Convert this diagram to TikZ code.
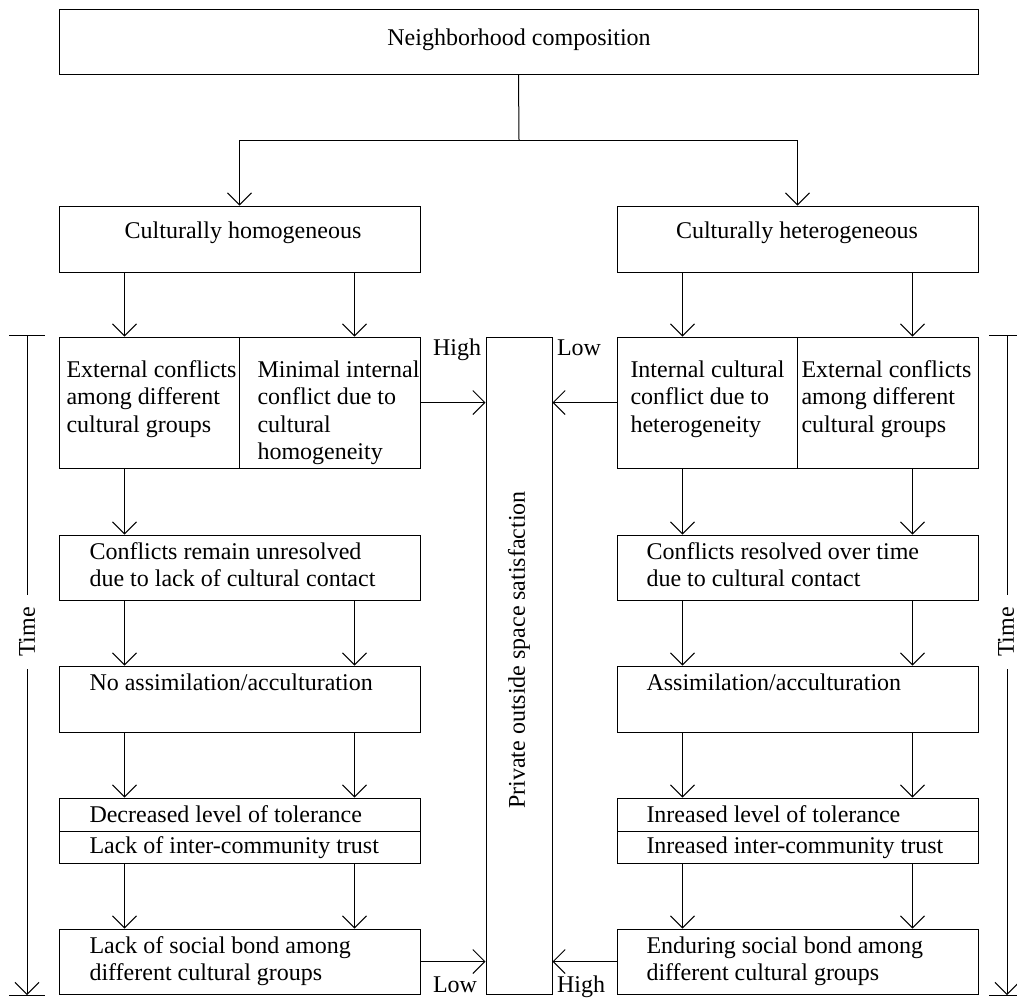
\documentclass[tikz,border=0pt]{standalone}
\usepackage{fontspec}
\setmainfont{Liberation Serif}
\usetikzlibrary{%
	calc,%
	fit,%
	arrows.meta%
}

\begin{document}
\begin{tikzpicture}[x=0.5pt,y=-0.5pt,
		line width=0.5pt,
		box/.style={draw,inner sep=0pt},
		txt/.style={inner sep=0pt,align=left,font=\fontsize{12pt}{13.75pt}\selectfont},
		arr/.style={-{Straight Barb[length=6pt,width=12pt]}}
	]
	\useasboundingbox (0,0) rectangle (1017,998);
	
	% Top box
	\node[box,fit={(59,9) (978,74)}] (top) {};
	\node[txt,anchor=base] (topT) at (519,45) {Neighborhood composition};
	
	% Left column
	\node[box,fit={(59,206) (420,272)}] (hom) {};
	\node[box,fit={(59,337) (239,468)}] (r2La) {};
	\node[box,fit={(239,337) (420,468)}] (r2Lb) {};
	\node[box,fit={(59,535) (420,600)}] (r3L) {};
	\node[box,fit={(59,666) (420,732)}] (r4L) {};
	\node[box,fit={(59,798) (420,831)}] (r5La) {};
	\node[box,fit={(59,831) (420,863)}] (r5Lb) {};
	\node[box,fit={(59,929) (420,994)}] (r6L) {};
	% (base = baseline of the last line)
	\node[txt,anchor=base] (homT) at (243,238) {Culturally homogeneous};
	\node[txt,anchor=base west] (r2LaT) at (66,432) {External conflicts\\among different\\cultural groups};
	\node[txt,anchor=base west] (r2LbT) at (257,459.5) {Minimal internal\\conflict due to\\cultural\\homogeneity};
	\node[txt,anchor=base west] (r3LT) at (89,586.5) {Conflicts remain unresolved\\due to lack of cultural contact};
	\node[txt,anchor=base west] (r4LT) at (89,690) {No assimilation/acculturation};
	\node[txt,anchor=base west] (r5LaT) at (89,822) {Decreased level of tolerance};
	\node[txt,anchor=base west] (r5LbT) at (89,853) {Lack of inter-community trust};
	\node[txt,anchor=base west] (r6LT) at (89,980.5) {Lack of social bond among\\different cultural groups};
	
	% Right column
	\node[box,fit={(617,206) (978,272)}] (het) {};
	\node[box,fit={(617,337) (797,468)}] (r2Ra) {};
	\node[box,fit={(797,337) (978,468)}] (r2Rb) {};
	\node[box,fit={(617,535) (978,600)}] (r3R) {};
	\node[box,fit={(617,666) (978,732)}] (r4R) {};
	\node[box,fit={(617,798) (978,831)}] (r5Ra) {};
	\node[box,fit={(617,831) (978,863)}] (r5Rb) {};
	\node[box,fit={(617,929) (978,994)}] (r6R) {};
	\node[txt,anchor=base] (hetT) at (797,238) {Culturally heterogeneous};
	\node[txt,anchor=base west] (r2RaT) at (630,432) {Internal cultural\\conflict due to\\heterogeneity};
	\node[txt,anchor=base west] (r2RbT) at (801,432) {External conflicts\\among different\\cultural groups};
	\node[txt,anchor=base west] (r3RT) at (646,586.5) {Conflicts resolved over time\\due to cultural contact};
	\node[txt,anchor=base west] (r4RT) at (646,690) {Assimilation/acculturation};
	\node[txt,anchor=base west] (r5RaT) at (646,822) {Inreased level of tolerance};
	\node[txt,anchor=base west] (r5RbT) at (646,853) {Inreased inter-community trust};
	\node[txt,anchor=base west] (r6RT) at (646,980.5) {Enduring social bond among\\different cultural groups};
	
	% Middle box
	\node[box,fit={(486,337) (552,994)}] (sat) {};
	\node[txt,rotate=90] (satT) at (519,650) {Private outside space satisfaction};
	\node[txt,anchor=base] (hiA) at (457,355) {High};
	\node[txt,anchor=base] (loA) at (579,355) {Low};
	\node[txt,anchor=base] (loB) at (455,992) {Low};
	\node[txt,anchor=base] (hiB) at (581,992) {High};
	
	% Split
	\coordinate (split) at (519,140);
	\draw (top.south) -- (split);
	\draw[arr] (split) -| (hom.north);
	\draw[arr] (split) -| (het.north);
	
	% Down arrows
	\foreach \s/\t in {hom/r2La,r2La/r3L,r3L/r4L,r4L/r5La,r5Lb/r6L,het/r2Ra,r2Ra/r3R,r3R/r4R,r4R/r5Ra,r5Rb/r6R}
		\draw[arr] ($(\s.south west)+(66,0)$) -- ($(\t.north west)+(66,0)$);
	\foreach \s/\t in {hom/r2Lb,r3L/r4L,r4L/r5La,r5Lb/r6L,het/r2Rb,r2Rb/r3R,r3R/r4R,r4R/r5Ra,r5Rb/r6R}
		\draw[arr] ($(\s.south east)+(-66,0)$) -- ($(\t.north east)+(-66,0)$);
	
	% Into the middle box
	\draw[arr] (r2Lb.east) -- (r2Lb.east -| sat.west);
	\draw[arr] (r2Ra.west) -- (r2Ra.west -| sat.east);
	\draw[arr] (r6L.east) -- (r6L.east -| sat.west);
	\draw[arr] (r6R.west) -- (r6R.west -| sat.east);
	
	% Time axes
	\coordinate (tLtop) at (27,335);
	\coordinate (tLend) at (27,995);
	\coordinate (tRtop) at (1007,335);
	\coordinate (tRend) at (1007,995);
	\node[txt,rotate=90,inner xsep=6pt] (timeL) at (27,632) {Time};
	\node[txt,rotate=90,inner xsep=6pt] (timeR) at (1006,632) {Time};
	\draw ([xshift=-9pt]tLtop) -- ([xshift=9pt]tLtop);
	\draw ([xshift=-9pt]tLend) -- ([xshift=9pt]tLend);
	\draw (tLtop) -- (timeL);
	\draw[arr] (timeL) -- (tLend);
	\draw ([xshift=-9pt]tRtop) -- ([xshift=9pt]tRtop);
	\draw ([xshift=-9pt]tRend) -- ([xshift=9pt]tRend);
	\draw (tRtop) -- (tRtop |- timeR.east);
	\draw[arr] (tRtop |- timeR.west) -- (tRend);
\end{tikzpicture}
\end{document}
